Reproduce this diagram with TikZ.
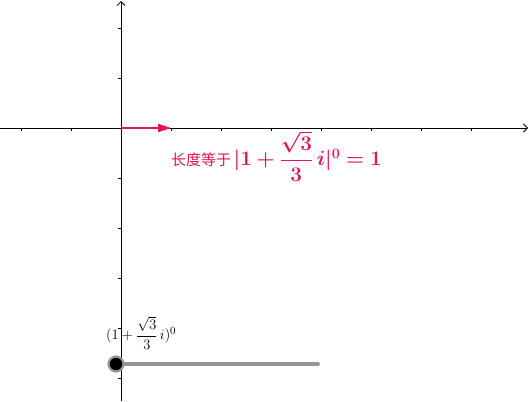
\documentclass[tikz,border=0pt]{standalone}
\usepackage{amsmath,bm}
\usepackage{fontspec}
\newfontfamily\cjk{Noto Sans CJK SC}
\usetikzlibrary{arrows.meta}
\definecolor{vecred}{RGB}{228,20,88}
\definecolor{slidergray}{RGB}{150,150,150}
\tikzset{
  axis/.style={line width=0.9pt, -{Straight Barb[length=4pt,width=8pt,line width=0.8pt]}},
  tick/.style={line width=0.8pt},
  vec/.style={vecred, line width=1.8pt, -{Triangle[length=13pt,width=8pt]}},
}
\begin{document}
\begin{tikzpicture}[x=1pt,y=-1pt]
\useasboundingbox (0,0) rectangle (529,401);
% axes
\coordinate (xl) at (0,128);
\coordinate (xr) at (528,128);
\coordinate (yb) at (121,401);
\coordinate (yt) at (121,1);
\draw[axis] (xl) -- (xr);
\draw[axis] (yb) -- (yt);
% ticks
\foreach \x in {21,71,171,221,271,321,371,421,471}
  \draw[tick] (\x,128) -- (\x,131);
\foreach \y in {28,78,178,228,278,328,378}
  \draw[tick] (121,\y) -- (118,\y);
% vector
\coordinate (o) at (121,128);
\coordinate (e) at (171,128);
\draw[vec] (o) -- (e);
% red label
\node[anchor=west, text=vecred, inner sep=0pt] (lab) at (171,156)
  {\fontsize{15}{18}\selectfont\cjk 长度等于\,\fontsize{20}{24}\selectfont$\bm{|1+\dfrac{\sqrt{3}}{3}\,i|^{0}=1}$};
% slider
\coordinate (s1) at (116,364);
\coordinate (s2) at (318,364);
\draw[slidergray, line width=4pt, line cap=round] (s1) -- (s2);
\node[circle, fill=black, draw=slidergray, line width=2.2pt, minimum size=15pt, inner sep=0pt] (pt) at (s1) {};
\node[anchor=west, inner sep=0pt] (slab) at (106,333)
  {\fontsize{15.5}{18}\selectfont$(1+\dfrac{\sqrt{3}}{3}\,i)^{0}$};
\end{tikzpicture}
\end{document}
